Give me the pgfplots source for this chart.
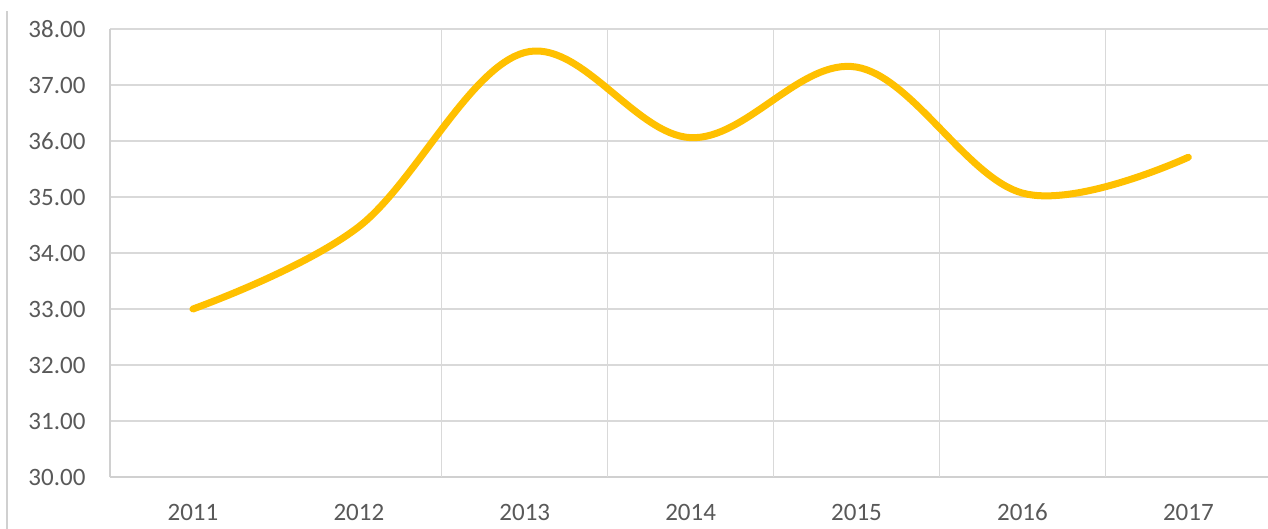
\documentclass[border=0pt]{standalone}
\usepackage{fontspec}
\setmainfont{Carlito}
\usepackage{pgfplots}
\pgfplotsset{compat=1.18}
\definecolor{lineorange}{HTML}{FFC000}
\definecolor{gridgray}{HTML}{D9D9D9}
\definecolor{axisgray}{HTML}{D0D0D0}
\definecolor{textgray}{HTML}{595959}
\begin{document}
\begin{tikzpicture}
\begin{axis}[
  scale only axis,
  width=1158bp, height=448bp,
  xmin=-0.5, xmax=6.48,
  ymin=30, ymax=38,
  xtick={0,1,2,3,4,5,6},
  xticklabels={2011,2012,2013,2014,2015,2016,2017},
  ytick={30,31,32,33,34,35,36,37,38},
  ymajorgrids=true,
  grid style={gridgray, line width=1.3bp},
  extra x ticks={1.5,2.5,3.5,4.5,5.5},
  extra x tick labels={},
  extra x tick style={xmajorgrids=true, major tick length=0pt},
  major tick length=0pt,
  axis x line*=bottom,
  axis y line*=left,
  axis line style={axisgray, line width=1.5bp, -},
  tick label style={font=\fontsize{25bp}{28bp}\selectfont, text=textgray},
  /pgf/number format/fixed,
  /pgf/number format/zerofill,
  /pgf/number format/precision=2,
  /pgf/number format/assume math mode=true,
  xticklabel style={text height=18bp, text depth=0pt, yshift=-22bp},
  yticklabel style={xshift=-21bp},
  clip=false,
]
\addplot[lineorange, line width=7bp, line cap=round, smooth, tension=0.6]
coordinates {
(0,33.00) (1,34.47) (2,37.58) (3,36.06) (4,37.32) (5,35.07) (6,35.71)
};
\end{axis}
\draw[axisgray, line width=2bp] (-103bp,-52bp) -- (-103bp,466bp);
\pgfresetboundingbox
\path (-110bp,-52bp) rectangle (1158bp,477bp);
\end{tikzpicture}
\end{document}
